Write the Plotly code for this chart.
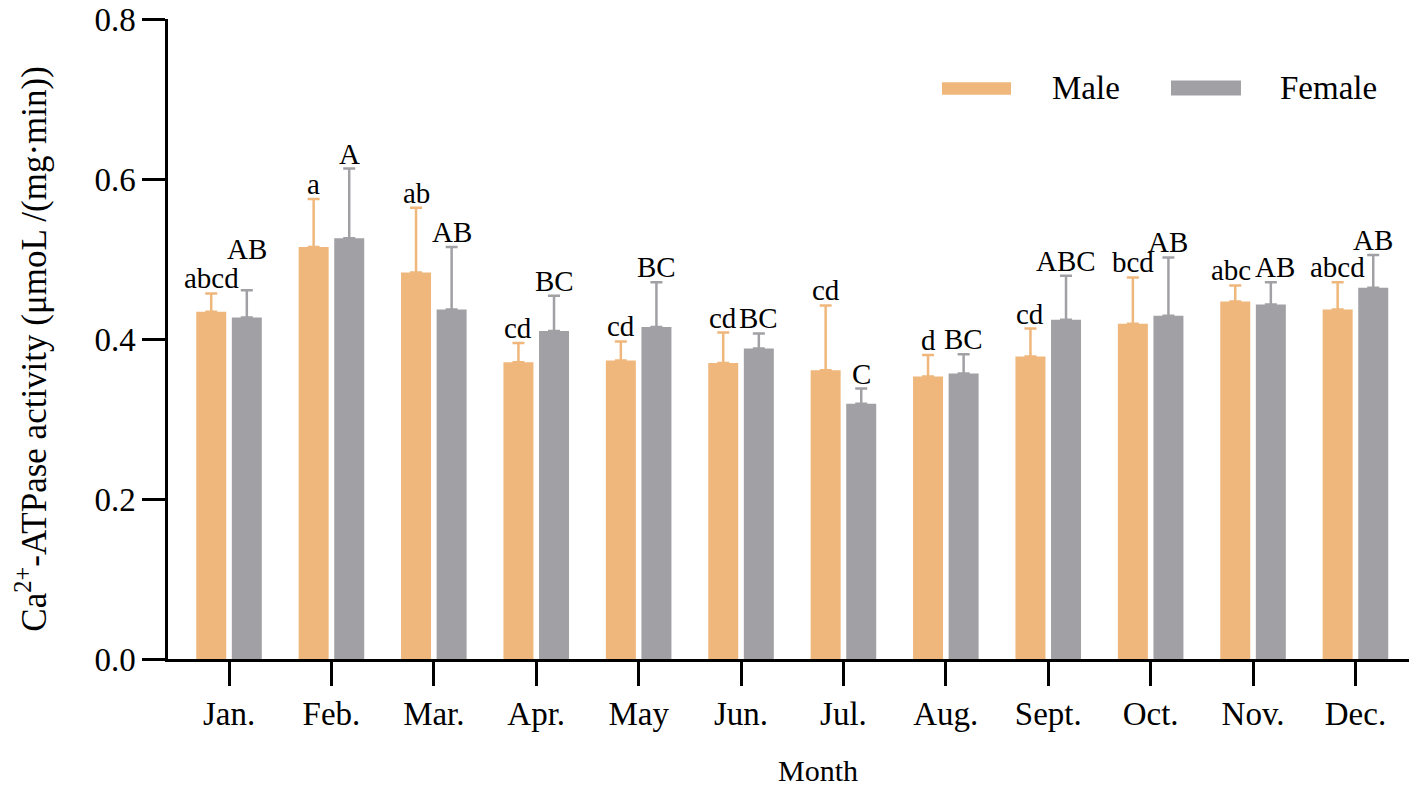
import plotly.graph_objects as go

# Monthly Ca2+-ATPase activity, mean and upper SD
months = ["Jan.", "Feb.", "Mar.", "Apr.", "May", "Jun.", "Jul.", "Aug.", "Sept.", "Oct.", "Nov.", "Dec."]

male_mean = [0.434, 0.515, 0.483, 0.371, 0.373, 0.370, 0.361, 0.353, 0.378, 0.419, 0.447, 0.437]
male_sd = [0.023, 0.060, 0.081, 0.024, 0.024, 0.038, 0.081, 0.027, 0.035, 0.058, 0.020, 0.034]
male_sig = ["abcd", "a", "ab", "cd", "cd", "cd", "cd", "d", "cd", "bcd", "abc", "abcd"]

female_mean = [0.427, 0.526, 0.437, 0.410, 0.415, 0.388, 0.319, 0.357, 0.424, 0.429, 0.443, 0.464]
female_sd = [0.034, 0.087, 0.078, 0.044, 0.056, 0.019, 0.019, 0.024, 0.055, 0.073, 0.028, 0.041]
female_sig = ["AB", "A", "AB", "BC", "BC", "BC", "C", "BC", "ABC", "AB", "AB", "AB"]

MALE_COLOR = "#F0B77C"
FEMALE_COLOR = "#A1A0A5"
FONT = "Liberation Serif, Times New Roman, serif"

# pixel nudges so crowded letters don't collide: month -> (male dx, male dy, female dx, female dy)
label_nudge = {"Jan.": (0, 0, 0, 26), "Nov.": (-4, 0, 4, 0)}

fig = go.Figure()

fig.add_trace(go.Bar(
    x=months, y=male_mean, name="Male",
    marker=dict(color=MALE_COLOR, line=dict(width=0)),
    error_y=dict(type="data", array=male_sd, arrayminus=[0] * len(male_sd),
                 symmetric=False, color=MALE_COLOR, thickness=2.5, width=6),
    showlegend=False,
))
fig.add_trace(go.Bar(
    x=months, y=female_mean, name="Female",
    marker=dict(color=FEMALE_COLOR, line=dict(width=0)),
    error_y=dict(type="data", array=female_sd, arrayminus=[0] * len(female_sd),
                 symmetric=False, color=FEMALE_COLOR, thickness=2.5, width=6),
    showlegend=False,
))

# significance letters above each error bar
half_pair = 17.8  # px from month centre to each bar centre
for i, m in enumerate(months):
    mdx, mdy, fdx, fdy = label_nudge.get(m, (0, 0, 0, 0))
    fig.add_annotation(x=m, y=male_mean[i] + male_sd[i], text=male_sig[i],
                       xshift=-half_pair + mdx, yshift=-3 + mdy, yanchor="bottom", showarrow=False,
                       font=dict(family=FONT, size=29, color="black"))
    fig.add_annotation(x=m, y=female_mean[i] + female_sd[i], text=female_sig[i],
                       xshift=half_pair + fdx, yshift=-3 + fdy, yanchor="bottom", showarrow=False,
                       font=dict(family=FONT, size=29, color="black"))

# legend drawn by hand to get the long flat swatches
fig.add_shape(type="rect", xref="paper", yref="paper", x0=0.6237, x1=0.6793, y0=0.8817, y1=0.9013,
              fillcolor=MALE_COLOR, line=dict(width=0))
fig.add_shape(type="rect", xref="paper", yref="paper", x0=0.8082, x1=0.8646, y0=0.8806, y1=0.9040,
              fillcolor=FEMALE_COLOR, line=dict(width=0))
fig.add_annotation(xref="paper", yref="paper", x=0.7107, y=0.8915, text="Male",
                   xanchor="left", yanchor="middle", showarrow=False,
                   font=dict(family=FONT, size=33, color="black"))
fig.add_annotation(xref="paper", yref="paper", x=0.8945, y=0.8915, text="Female",
                   xanchor="left", yanchor="middle", showarrow=False,
                   font=dict(family=FONT, size=33, color="black"))

# axis titles as annotations so they sit where the original has them
fig.add_annotation(xref="paper", yref="paper", x=0.5238, y=-0.2025, text="Month",
                   xanchor="center", yanchor="bottom", showarrow=False,
                   font=dict(family=FONT, size=30, color="black"))
fig.add_annotation(xref="paper", yref="paper", x=-0.110, y=0.4856,
                   text="Ca<sup>2+</sup>-ATPase activity (μmoL /(mg·min))", textangle=-90,
                   xanchor="center", yanchor="middle", showarrow=False,
                   font=dict(family=FONT, size=35, color="black"))

fig.update_xaxes(
    range=[-0.596, 11.523],
    showline=True, linecolor="black", linewidth=2.5,
    ticks="outside", ticklen=24, tickwidth=2.5, tickcolor="black",
    showgrid=False, zeroline=False,
    tickfont=dict(family=FONT, size=33, color="black"),
    ticklabelstandoff=0,
)
fig.update_yaxes(
    range=[0, 0.8], tickvals=[0, 0.2, 0.4, 0.6, 0.8], tickformat=".1f",
    showline=True, linecolor="black", linewidth=2.5,
    ticks="outside", ticklen=23, tickwidth=2.5, tickcolor="black",
    showgrid=False, zeroline=False,
    tickfont=dict(family=FONT, size=33, color="black"),
    ticklabelstandoff=0, ticklabeloverflow="allow",
    automargin=False,
)

fig.update_layout(
    width=1401, height=781,
    barmode="group", bargap=0.305, bargroupgap=0.157,
    paper_bgcolor="white", plot_bgcolor="white",
    margin=dict(l=160, r=0, t=10.5, b=130, autoexpand=False),
    font=dict(family=FONT, color="black"),
)

fig.write_html("out.html")
